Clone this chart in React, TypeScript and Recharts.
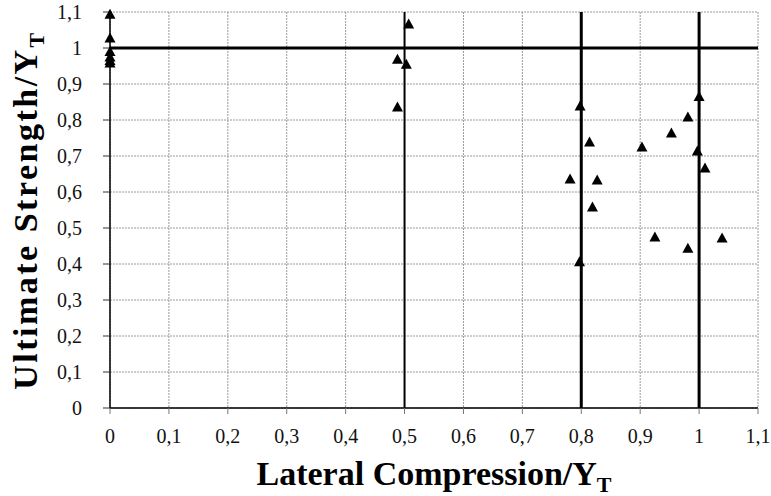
import React from "react";
import {
  ScatterChart,
  Scatter,
  XAxis,
  YAxis,
  CartesianGrid,
  ReferenceLine,
  Label,
} from "recharts";

// lateral compression / Y_T (x) and ultimate strength / Y_T (y), paired by index
const lateral = [
  0, 0, 0, 0, 0, 0,
  0.507, 0.488, 0.503, 0.488,
  0.798, 0.814, 0.781, 0.827, 0.819, 0.797, 0.903,
  0.981, 0.953, 0.997, 1.0, 1.01, 0.925, 1.039, 0.981,
];
const strength = [
  1.094, 1.028, 0.99, 0.975, 0.965, 0.958,
  1.067, 0.969, 0.955, 0.836,
  0.839, 0.739, 0.636, 0.633, 0.558, 0.406, 0.725,
  0.808, 0.764, 0.714, 0.865, 0.667, 0.475, 0.472, 0.444,
];
const ticks = [0, 0.1, 0.2, 0.3, 0.4, 0.5, 0.6, 0.7, 0.8, 0.9, 1, 1.1];

const FONT = '"Liberation Serif", "Times New Roman", serif';

const fmt = (v: number) => String(Math.round(v * 10) / 10).replace(".", ",");

const Triangle = ({ cx, cy }: { cx?: number; cy?: number }) => {
  if (cx == null || cy == null) return null;
  return (
    <polygon
      points={`${cx},${cy - 5.5} ${cx - 5.5},${cy + 4.5} ${cx + 5.5},${cy + 4.5}`}
      fill="#000"
    />
  );
};

const XTitle = ({ viewBox }: any) => {
  const { x, width } = viewBox;
  return (
    <text
      x={x + width / 2}
      y={485}
      textAnchor="middle"
      fontFamily={FONT}
      fontWeight="bold"
      fontSize={34}
      fill="#000"
    >
      Lateral Compression/Y
      <tspan dy={7} fontSize={22}>T</tspan>
    </text>
  );
};

const YTitle = () => (
  <text
    transform="translate(37, 210) rotate(-90)"
    textAnchor="middle"
    fontFamily={FONT}
    fontWeight="bold"
    fontSize={34}
    letterSpacing={2.5}
    fill="#000"
  >
    Ultimate Strength/Y
    <tspan dy={7} fontSize={22}>T</tspan>
  </text>
);

export default function App() {
  const data = lateral.map((x, i) => ({ x, y: strength[i] }));

  return (
    <div style={{ position: "absolute", left: 0, top: 0, width: 771, height: 496, background: "#fff" }}>
      <ScatterChart width={771} height={496} margin={{ top: 12, right: 13, bottom: 0, left: 0 }}>
        <CartesianGrid stroke="#9a9a9a" strokeDasharray="2 1" />
        <XAxis
          type="number"
          dataKey="x"
          domain={[0, 1.1]}
          ticks={ticks}
          tickFormatter={fmt}
          height={88}
          axisLine={{ stroke: "#000", strokeWidth: 1.5 }}
          tickLine={{ stroke: "#777" }}
          tickSize={6}
          tickMargin={15}
          tick={{ fill: "#111", fontSize: 20, fontFamily: FONT }}
          interval={0}
        >
          <Label content={<XTitle />} />
        </XAxis>
        <YAxis
          type="number"
          dataKey="y"
          domain={[0, 1.1]}
          ticks={ticks}
          tickFormatter={fmt}
          width={110}
          axisLine={{ stroke: "#000", strokeWidth: 1.5 }}
          tickLine={{ stroke: "#333" }}
          tickSize={7}
          tickMargin={21}
          tick={{ fill: "#111", fontSize: 20, fontFamily: FONT }}
          interval={0}
        >
          <Label content={<YTitle />} />
        </YAxis>
        <ReferenceLine y={1} stroke="#000" strokeWidth={3} />
        <ReferenceLine x={0.5} stroke="#000" strokeWidth={2} />
        <ReferenceLine x={0.8} stroke="#000" strokeWidth={3} />
        <ReferenceLine x={1} stroke="#000" strokeWidth={3} />
        <Scatter data={data} shape={<Triangle />} isAnimationActive={false} />
      </ScatterChart>
    </div>
  );
}
